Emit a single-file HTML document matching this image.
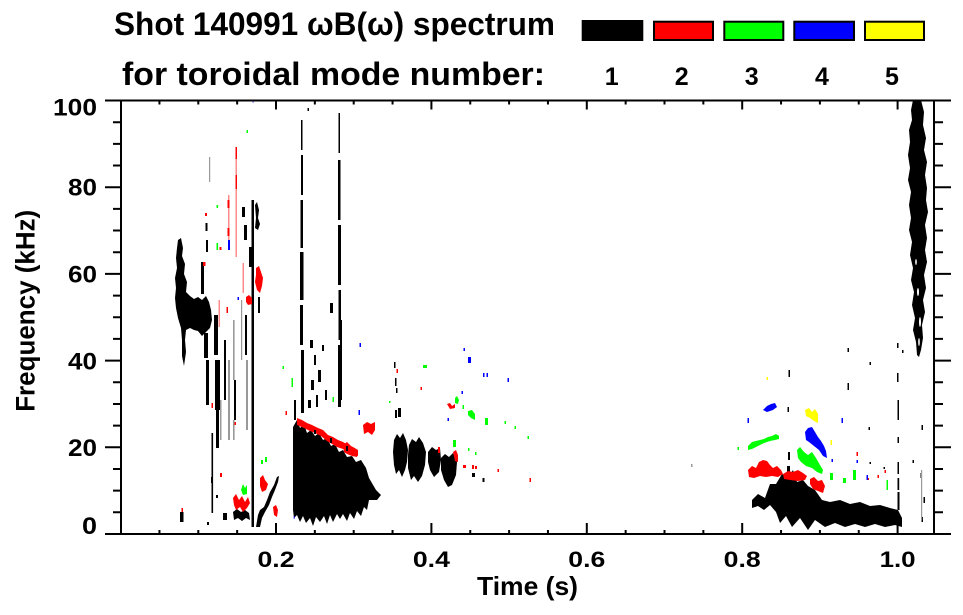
<!DOCTYPE html>
<html><head><meta charset="utf-8"><style>
html,body{margin:0;padding:0;background:#fff;}
svg{display:block;font-family:"Liberation Sans",Arial,Helvetica,sans-serif;font-weight:bold;}
</style></head><body>
<svg width="963" height="615" viewBox="0 0 963 615" xmlns="http://www.w3.org/2000/svg">
<rect width="963" height="615" fill="#fff"/>
<!-- Title -->
<text x="114" y="35" font-size="32" textLength="441" lengthAdjust="spacingAndGlyphs">Shot 140991 ωB(ω) spectrum</text>
<text x="122" y="85" font-size="32" textLength="423" lengthAdjust="spacingAndGlyphs">for toroidal mode number:</text>
<!-- legend -->
<rect x="581.7" y="20" width="61.6" height="21" fill="#000"/>
<rect x="654" y="21.7" width="59" height="18.3" fill="#f00" stroke="#000" stroke-width="2"/>
<rect x="724.3" y="21.7" width="59" height="18.3" fill="#0f0" stroke="#000" stroke-width="2"/>
<rect x="794.3" y="21.7" width="59.7" height="18.3" fill="#00f" stroke="#000" stroke-width="2"/>
<rect x="865" y="21.7" width="59" height="18.3" fill="#ff0" stroke="#000" stroke-width="2"/>
<g font-size="25" text-anchor="middle">
<text x="611.7" y="85">1</text><text x="681.7" y="85">2</text><text x="751.7" y="85">3</text><text x="822" y="85">4</text><text x="892" y="85">5</text>
</g>

<!-- DATA -->
<g fill="#000">
<!-- left column + mass -->
<polygon points="178,240 181,238 183,248 182,256 185,264 184,274 187,282 186,292 190,296 194,299 198,297 202,300 206,296 209,302 211,310 212,320 210,328 206,332 202,336 198,331 194,330 190,328 186,330 185,340 186,352 184,366 182,356 182,340 181,328 178,318 176,308 175,298 176,288 175,278 177,268 176,258 177,248"/>
<rect x="201" y="262" width="3" height="32"/>
<rect x="204" y="333" width="4" height="25"/>
<rect x="206" y="360" width="3" height="45"/>
<rect x="214" y="315" width="4" height="40"/>
<rect x="215" y="360" width="5" height="50"/>
<rect x="216" y="410" width="3" height="38"/>
<rect x="211.5" y="433" width="1.6" height="80"/>
<rect x="224" y="340" width="2" height="60"/>
<rect x="234" y="380" width="2" height="40"/>
<rect x="245" y="315" width="2" height="40"/>
<rect x="251.5" y="200" width="2.5" height="327"/>
<rect x="249" y="247" width="5" height="20"/>
<polygon points="255,205 257,202 259,210 258,218 260,224 258,230 255,228 256,218"/>
<rect x="242" y="207" width="3" height="10"/>
<rect x="244" y="225" width="3" height="15"/>
<rect x="205.5" y="223" width="2" height="8"/>
<rect x="206" y="240" width="2" height="12"/>
<rect x="258" y="297" width="2" height="16"/>
<!-- bottom cluster -->
<polygon points="233,512 237,509 241,512 245,510 249,513 250,520 246,518 242,521 238,518 234,520"/>
<polygon points="256,527 258,515 260,510 264,507 267,500 270,492 274,485 277,477 279,476 278,482 275,490 272,497 269,505 265,512 262,518 260,527"/>
<rect x="180" y="512" width="3.5" height="10"/>
<rect x="223" y="513" width="4" height="7"/>
<rect x="216" y="495" width="2" height="3"/>
<rect x="211" y="477" width="2" height="6"/>
<rect x="207" y="522" width="2" height="3"/>
<!-- t 0.23 / 0.28 vertical lines -->
<rect x="301" y="120" width="1.5" height="30"/>
<rect x="301" y="155" width="2" height="40"/>
<rect x="300.5" y="200" width="2.5" height="48"/>
<rect x="300" y="252" width="3.5" height="48"/>
<rect x="300" y="305" width="3" height="40"/>
<rect x="301" y="350" width="3" height="63"/>
<rect x="307.5" y="108" width="1.5" height="3"/>
<rect x="338.5" y="113" width="1.5" height="40"/>
<rect x="338" y="160" width="2.5" height="60"/>
<rect x="338" y="225" width="3" height="60"/>
<rect x="338.5" y="290" width="2.5" height="50"/>
<rect x="338" y="345" width="3" height="62"/>
<rect x="310" y="340" width="3" height="8"/>
<rect x="314" y="355" width="2" height="10"/>
<rect x="318" y="370" width="3" height="12"/>
<rect x="322" y="345" width="2" height="6"/>
<rect x="311" y="380" width="3" height="10"/>
<rect x="316" y="395" width="2" height="12"/>
<rect x="325" y="390" width="2" height="10"/>
<rect x="308" y="400" width="3" height="8"/>
<rect x="330" y="303" width="3" height="10"/>
<rect x="294" y="400" width="2" height="20"/>
<!-- big black mass -->
<polygon points="293,427 297,420 300,428 304,424 307,433 311,430 315,436 319,433 323,440 327,438 331,446 335,444 339,452 343,450 347,457 352,456 356,462 361,460 366,468 369,478 376,490 381,495 377,500 369,500 367,510 364,507 361,516 357,511 354,519 350,513 347,521 343,514 340,519 337,514 333,522 330,515 327,524 324,516 320,522 316,517 313,526 310,518 306,523 303,516 300,522 297,515 294,518 293,510"/>
<!-- 0.35-0.44 blobs -->
<polygon points="394,440 397,434 400,438 403,433 406,440 408,450 407,462 405,470 402,477 399,470 396,474 394,465 393,452"/>
<polygon points="409,445 412,439 416,442 419,437 423,443 426,452 425,465 422,476 418,482 414,476 411,480 408,468 408,455"/>
<polygon points="428,452 432,447 436,450 440,448 441,460 439,472 434,477 430,470 428,462"/>
<polygon points="441,458 445,454 449,457 453,453 457,462 456,475 452,485 448,487 444,480 441,470"/>
<rect x="395" y="410" width="2" height="8"/>
<rect x="398" y="408" width="3" height="9"/>
<rect x="394" y="362" width="1.5" height="6"/>
<rect x="395" y="378" width="1.5" height="8"/>
<rect x="396" y="388" width="1.5" height="5"/>
<rect x="340" y="320" width="2" height="80"/>
<rect x="472" y="473" width="3" height="4"/>
<rect x="482.5" y="478" width="2" height="4"/>
<!-- right band -->
<polygon points="752,500 758,494 765,498 770,484 776,484 782,474 788,478 793,470 797,482 803,480 808,486 815,490 822,500 830,502 840,500 850,504 860,502 870,506 880,505 890,508 898,510 902,518 902,527 895,525 885,527 875,524 865,527 855,524 845,527 835,523 825,527 815,520 808,530 800,518 792,527 786,516 780,523 776,512 770,505 764,510 758,506 752,508"/>
<rect x="787" y="466" width="3" height="14"/>
<rect x="788" y="452" width="2" height="8"/>
<rect x="847.5" y="348" width="1.5" height="4"/>
<rect x="869.5" y="362" width="1.5" height="3"/>
<rect x="788.5" y="370" width="1.5" height="7"/>
<rect x="787.5" y="407" width="1.5" height="5"/>
<rect x="847.5" y="383" width="1.5" height="7"/>
<rect x="868.5" y="427" width="1.5" height="3"/>
<rect x="869.5" y="462" width="1.5" height="2"/>
<rect x="883.5" y="467" width="1.5" height="2"/>
<rect x="912.5" y="460" width="1.5" height="3"/>
<rect x="921.5" y="425" width="1.5" height="5"/>
<rect x="920.5" y="473" width="1.5" height="5"/>
<rect x="921.5" y="517" width="1.5" height="5"/>
<rect x="923.5" y="497" width="1.5" height="6"/>
<rect x="902" y="350" width="1.5" height="3"/>
<rect x="897" y="343" width="1.5" height="5"/>
<rect x="897" y="373" width="1.5" height="9"/>
<rect x="897.5" y="400" width="1.5" height="20"/>
<rect x="897.5" y="437" width="1.5" height="6"/>
<rect x="897.5" y="462" width="1.5" height="12"/>
<rect x="897.5" y="478" width="1.7" height="12"/>
<rect x="897.5" y="492" width="2" height="18"/>
<!-- right column -->
<polygon points="913,100 911,110 912,120 909,130 910,142 908,155 910,168 908,180 911,192 909,205 911,218 909,230 912,242 910,255 913,268 911,280 914,292 912,305 915,318 913,330 916,342 917,355 919,357 921,350 923,338 922,325 925,312 923,300 926,288 924,275 927,262 925,250 927,238 925,225 928,212 926,200 927,188 925,175 927,162 924,150 926,138 923,125 924,112 921,100"/>
</g>
<!-- white holes in right column -->
<g fill="#fff">
<ellipse cx="918" cy="292" rx="1" ry="4"/>
<ellipse cx="920" cy="322" rx="1" ry="5"/>
<ellipse cx="916" cy="262" rx="0.8" ry="3"/>
<ellipse cx="919" cy="342" rx="0.8" ry="4"/>
</g>
<!-- gray streaks -->
<g fill="#999">
<rect x="209" y="157" width="1.2" height="25"/>
<rect x="228" y="360" width="2" height="80"/>
<rect x="233" y="320" width="1.6" height="60"/>
<rect x="233" y="420" width="1.6" height="20"/>
<rect x="246" y="360" width="2" height="70"/>
<rect x="220" y="400" width="1.5" height="40"/>
<rect x="241" y="300" width="1.2" height="60"/>
<rect x="921" y="470" width="1.2" height="50"/>
<rect x="691" y="464" width="1.5" height="3"/>
</g>
<!-- red -->
<g fill="#f00">
<rect x="235.5" y="147" width="1.5" height="110" opacity="0.45"/>
<rect x="235.5" y="147" width="1.5" height="12"/>
<rect x="235.5" y="175" width="1.5" height="14"/>
<rect x="228" y="195" width="1.5" height="45" opacity="0.45"/>
<rect x="227.5" y="200" width="2" height="8"/>
<rect x="227.5" y="228" width="2" height="8"/>
<rect x="242.5" y="263" width="1.5" height="30" opacity="0.45"/>
<rect x="218.5" y="300" width="1.5" height="27" opacity="0.45"/>
<rect x="203" y="262" width="2.5" height="4"/>
<rect x="205" y="213" width="2" height="3"/>
<rect x="219.5" y="247" width="2" height="3"/>
<rect x="226.5" y="307" width="1.5" height="6"/>
<rect x="211.5" y="403" width="1.5" height="5"/>
<rect x="234.5" y="422" width="1.5" height="3"/>
<rect x="220" y="473" width="2" height="4"/>
<polygon points="256,268 259,266 261,272 263,278 262,286 260,293 257,290 255,282 256,275"/>
<polygon points="246,297 249,295 252,298 252,304 248,305 246,302"/>
<polygon points="233,498 236,494 239,500 242,496 245,502 248,497 250,503 247,508 243,512 240,507 236,510 234,505"/>
<polygon points="260,478 263,475 265,480 268,484 266,490 262,492 260,486"/>
<polygon points="273,507 276,505 278,510 277,517 274,515"/>
<rect x="181.5" y="508" width="1.5" height="4"/>
<!-- red band over black mass -->
<polygon points="297,418 302,420 307,423 312,425 318,428 323,430 328,435 333,437 338,440 343,442 348,445 353,447 358,450 358,456 353,454 348,452 343,449 337,447 332,444 327,441 321,436 315,433 310,431 304,428 297,425"/>
<polygon points="363,425 367,422 371,424 375,422 375,430 372,435 368,432 364,434"/>
<polygon points="343,445 347,442 351,446 355,449 358,452 357,457 352,456 347,454 344,452"/>
<rect x="285.5" y="411" width="1.5" height="4"/>
<rect x="396.5" y="369" width="1.5" height="4"/>
<rect x="438" y="447" width="2" height="6"/>
<polygon points="453,452 456,450 458,455 458,462 455,461"/>
<polygon points="447,404 450,403 452,406 455,404 455,408 450,409"/>
<rect x="463" y="465" width="3" height="3"/>
<rect x="472" y="465" width="2" height="4"/>
<rect x="475" y="466" width="2" height="3"/>
<rect x="420.5" y="387" width="1.5" height="3"/>
<rect x="497.5" y="469" width="1.5" height="3"/>
<rect x="529.5" y="478" width="1.5" height="4"/>
<!-- right red -->
<polygon points="748,470 752,466 756,468 759,462 763,460 767,461 770,465 773,468 777,466 781,470 783,474 778,477 772,476 766,477 760,476 754,478 749,477"/>
<polygon points="783,474 788,471 793,472 798,470 803,473 807,476 805,480 798,481 790,480 784,479"/>
<polygon points="810,479 814,477 818,481 822,480 825,486 823,493 818,491 813,489 810,484"/>
<rect x="856.5" y="452" width="1.5" height="4"/>
<rect x="884.5" y="470" width="1.5" height="3"/>
<rect x="877.5" y="475" width="1.5" height="3"/>
<rect x="867.5" y="478" width="1.5" height="2"/>
</g>
<!-- black gaps in red band -->
<g fill="#000">
<rect x="314" y="430" width="2" height="4"/>
<rect x="330" y="438" width="2" height="5"/>
<rect x="346" y="446" width="2" height="5"/>
</g>
<!-- green -->
<g fill="#0f0">
<rect x="216.5" y="205" width="1.6" height="3"/>
<rect x="216.5" y="243" width="1.6" height="7"/>
<rect x="246.5" y="130" width="1.5" height="3"/>
<polygon points="241,490 243,484 245,488 247,485 247,494 243,495"/>
<rect x="261" y="460" width="2" height="4"/>
<rect x="265" y="457" width="2" height="5"/>
<rect x="282.5" y="366" width="1.5" height="3"/>
<rect x="291.5" y="378" width="1.5" height="9"/>
<rect x="332.5" y="397" width="1.5" height="5"/>
<rect x="423" y="365" width="4" height="3"/>
<rect x="389" y="401" width="1.5" height="2"/>
<polygon points="455,398 457,396 459,400 458,404 455,403"/>
<rect x="462.5" y="405" width="1.5" height="4"/>
<polygon points="468,411 472,410 475,414 475,420 471,418 468,415"/>
<rect x="485" y="418" width="3" height="7"/>
<rect x="504.5" y="421" width="1.5" height="3"/>
<rect x="514.5" y="426" width="1.5" height="3"/>
<rect x="527.5" y="436" width="1.5" height="3"/>
<rect x="453" y="440" width="3" height="7"/>
<rect x="468" y="448" width="1.5" height="3"/>
<rect x="475" y="452" width="1.5" height="3"/>
<!-- right green -->
<polygon points="748,446 752,442 756,441 760,440 764,439 768,437 772,436 776,434 779,436 779,439 775,440 770,441 764,443 758,446 752,449 748,450"/>
<rect x="737.5" y="447" width="1.5" height="3"/>
<polygon points="797,450 800,447 804,452 808,455 812,452 816,458 820,465 823,470 822,474 817,472 812,468 806,466 801,462 798,458"/>
<rect x="830" y="473" width="3" height="7"/>
<rect x="843" y="478" width="3" height="5"/>
<rect x="853" y="470" width="3" height="10"/>
<rect x="886.5" y="480" width="1.5" height="10"/>
</g>
<!-- blue -->
<g fill="#00f">
<rect x="228" y="240" width="2" height="10"/>
<rect x="237.5" y="297" width="1.5" height="3"/>
<rect x="252.5" y="100" width="1.2" height="3" opacity="0.5"/>
<rect x="293.5" y="516" width="1.5" height="3" opacity="0.5"/>
<rect x="358.5" y="410" width="1.5" height="5"/>
<rect x="359.5" y="343" width="1.5" height="4"/>
<rect x="463.5" y="348" width="1.5" height="3"/>
<rect x="468" y="357" width="3" height="6"/>
<rect x="483" y="373" width="1.5" height="4"/>
<rect x="486.5" y="373" width="1.5" height="4"/>
<rect x="507.5" y="378" width="1.5" height="4"/>
<rect x="461.5" y="391" width="1.5" height="3"/>
<rect x="447.5" y="418" width="1.5" height="3"/>
<polygon points="805,432 808,428 812,427 815,432 818,437 821,441 824,446 826,451 827,458 823,456 819,450 814,446 809,442 806,440"/>
<polygon points="763,410 767,406 771,404 775,403 777,407 773,410 767,412"/>
<rect x="747.5" y="418" width="1.5" height="5"/>
<rect x="841.5" y="418" width="1.5" height="5"/>
<rect x="866.5" y="475" width="1.5" height="5"/>
<rect x="856.5" y="460" width="1.5" height="3"/>
<rect x="831.5" y="459" width="1.5" height="3"/>
</g>
<!-- yellow -->
<g fill="#ff0">
<polygon points="805,410 809,408 812,412 815,409 818,414 818,423 814,421 810,418 806,416"/>
<rect x="766.5" y="377" width="1.5" height="3"/>
<rect x="830.5" y="440" width="1.5" height="5"/>
</g>

<!-- AXES -->
<g stroke="#000" stroke-width="2" fill="none">
<rect x="121" y="100.5" width="813" height="433.5"/>
<path d="M105 534H121M113 512.3H121M113 490.65H121M113 469H121M105 447.3H121M113 425.6H121M113 404H121M113 382.3H121M105 360.6H121M113 338.9H121M113 317.25H121M113 295.6H121M105 273.9H121M113 252.2H121M113 230.55H121M113 208.9H121M105 187.2H121M113 165.5H121M113 143.85H121M113 122.2H121M105 100.5H121"/>
<path d="M934 534H951M934 512.3H943M934 490.65H943M934 469H943M934 447.3H951M934 425.6H943M934 404H943M934 382.3H943M934 360.6H951M934 338.9H943M934 317.25H943M934 295.6H943M934 273.9H951M934 252.2H943M934 230.55H943M934 208.9H943M934 187.2H951M934 165.5H943M934 143.85H943M934 122.2H943M934 100.5H951"/>
<path d="M159.45 534V530M198.3 534V530M237.15 534V530M276 534V523M314.85 534V530M353.7 534V530M392.55 534V530M431.4 534V523M470.25 534V530M509.1 534V530M547.95 534V530M586.8 534V523M625.65 534V530M664.5 534V530M703.35 534V530M742.2 534V523M781.05 534V530M819.9 534V530M858.75 534V530M897.6 534V523"/>
<path d="M159.45 100.5V104.5M198.3 100.5V104.5M237.15 100.5V104.5M276 100.5V109.5M314.85 100.5V104.5M353.7 100.5V104.5M392.55 100.5V104.5M431.4 100.5V109.5M470.25 100.5V104.5M509.1 100.5V104.5M547.95 100.5V104.5M586.8 100.5V109.5M625.65 100.5V104.5M664.5 100.5V104.5M703.35 100.5V104.5M742.2 100.5V109.5M781.05 100.5V104.5M819.9 100.5V104.5M858.75 100.5V104.5M897.6 100.5V109.5"/>
</g>
<!-- tick labels -->
<g font-size="24" text-anchor="end">
<text x="97" y="115.5" textLength="44" lengthAdjust="spacingAndGlyphs">100</text>
<text x="97" y="195.5" textLength="29" lengthAdjust="spacingAndGlyphs">80</text>
<text x="97" y="282.5" textLength="29" lengthAdjust="spacingAndGlyphs">60</text>
<text x="97" y="369.3" textLength="29" lengthAdjust="spacingAndGlyphs">40</text>
<text x="97" y="456" textLength="29" lengthAdjust="spacingAndGlyphs">20</text>
<text x="97" y="534" textLength="15" lengthAdjust="spacingAndGlyphs">0</text>
</g>
<g font-size="22" text-anchor="middle">
<text x="276" y="567" textLength="37" lengthAdjust="spacingAndGlyphs">0.2</text>
<text x="431.4" y="567" textLength="37" lengthAdjust="spacingAndGlyphs">0.4</text>
<text x="586.8" y="567" textLength="37" lengthAdjust="spacingAndGlyphs">0.6</text>
<text x="742.2" y="567" textLength="37" lengthAdjust="spacingAndGlyphs">0.8</text>
<text x="897.6" y="567" textLength="36" lengthAdjust="spacingAndGlyphs">1.0</text>
</g>
<text x="527.5" y="595" font-size="26" text-anchor="middle" textLength="101" lengthAdjust="spacingAndGlyphs">Time (s)</text>
<text transform="translate(34.5,310.8) rotate(-90)" x="0" y="0" font-size="27" text-anchor="middle" textLength="202" lengthAdjust="spacingAndGlyphs">Frequency (kHz)</text>
</svg>
</body></html>
